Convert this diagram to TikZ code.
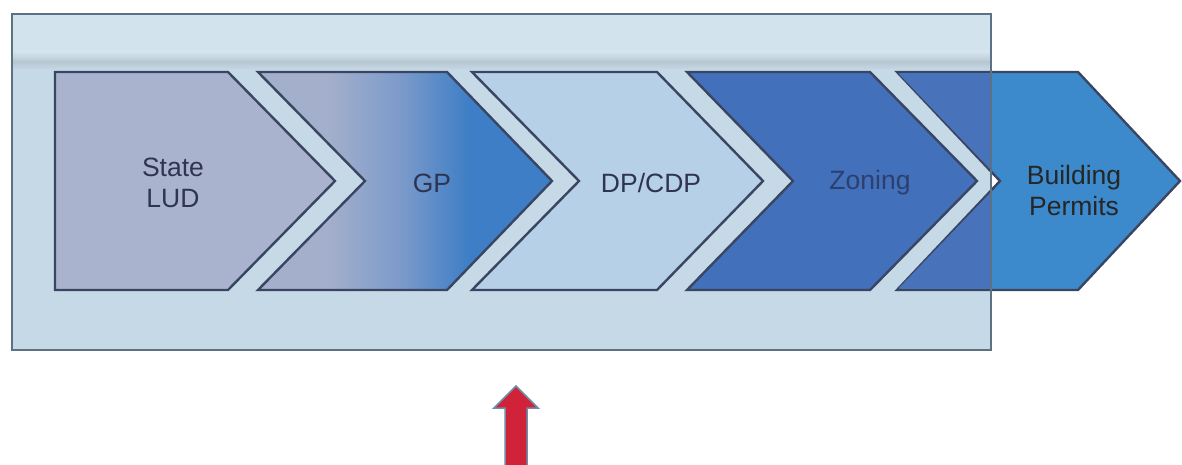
\documentclass[tikz,border=0pt]{standalone}
\usepackage{fontspec}
\setmainfont{Liberation Sans}
\definecolor{boxbg}{HTML}{C6D9E7}
\definecolor{boxtop}{HTML}{D3E3EE}
\definecolor{boxband}{HTML}{B9C7D2}
\definecolor{boxline}{HTML}{5C7282}
\definecolor{chedge}{HTML}{3A4562}
\definecolor{cstate}{HTML}{A9B3CD}
\definecolor{cgpl}{HTML}{A3AFCB}
\definecolor{cgpm}{HTML}{7D9BCB}
\definecolor{cgpr}{HTML}{3D7EC6}
\definecolor{cdp}{HTML}{B6D0E8}
\definecolor{czone}{HTML}{4270BB}
\definecolor{cbp}{HTML}{3C8ACB}
\definecolor{cbpin}{HTML}{4873BA}
\definecolor{txt}{HTML}{2E3452}
\definecolor{txtz}{HTML}{2D3F6E}
\definecolor{arrred}{HTML}{D02238}
\definecolor{arredge}{HTML}{6F8CA8}
\pgfdeclarehorizontalshading{gpshade}{100bp}{color(0bp)=(cgpl); color(25bp)=(cgpl); color(37bp)=(cgpl); color(49bp)=(cgpm); color(61bp)=(cgpr); color(100bp)=(cgpr)}
\tikzset{
  chevron/.style={draw=chedge,line width=2.4pt,line join=miter},
  label/.style={font=\fontsize{26.5}{31}\selectfont,text=txt,align=center,inner sep=0pt},
}
\begin{document}
\begin{tikzpicture}[x=1pt,y=-1pt]
\useasboundingbox (0,0) rectangle (1182,465);
% background box
\fill[boxbg] (12,14) rectangle (991,350);
\fill[boxtop] (12,14) rectangle (991,55);
\shade[top color=boxtop,bottom color=boxband] (12,52) rectangle (991,62);
\shade[top color=boxband,bottom color=boxbg] (12,62) rectangle (991,70);
% chevrons
\path[chevron,fill=cstate] (55,72) -- (228,72) -- (335,181) -- (228,290) -- (55,290) -- cycle;
\path[chevron,shading=gpshade] (258,72) -- (447,72) -- (552,181) -- (447,290) -- (258,290) -- (365,181) -- cycle;
\path[chevron,fill=cdp] (472,72) -- (657,72) -- (763,181) -- (657,290) -- (472,290) -- (579,181) -- cycle;
\path[chevron,fill=czone] (687,72) -- (870,72) -- (977,181) -- (870,290) -- (687,290) -- (793,181) -- cycle;
\path[chevron,fill=cbp] (897,72) -- (1078,72) -- (1180,181) -- (1078,290) -- (897,290) -- (1000,181) -- cycle;
\begin{scope}
  \clip (12,14) rectangle (991,350);
  \fill[cbpin] (898.5,73.5) -- (1078,73.5) -- (1180,181) -- (1078,288.5) -- (898.5,288.5) -- (1001.5,181) -- cycle;
\end{scope}
% box border
\draw[boxline,line width=1.6pt] (12,14) rectangle (991,350);
% labels
\node[label] (state) at (173,183) {State\\LUD};
\node[label] (gp) at (432,183) {GP};
\node[label] (dp) at (651,183) {DP/CDP};
\node[label,text=txtz] (zone) at (870,183) {Zoning};
\node[label,text=black!85] (bp) at (1074,191) {Building\\Permits};
% red arrow
\path[fill=arrred,draw=arredge,line width=1.5pt,line join=miter]
  (516,386) -- (538,408) -- (527,408) -- (527,466) -- (505,466) -- (505,408) -- (494,408) -- cycle;
\end{tikzpicture}
\end{document}
